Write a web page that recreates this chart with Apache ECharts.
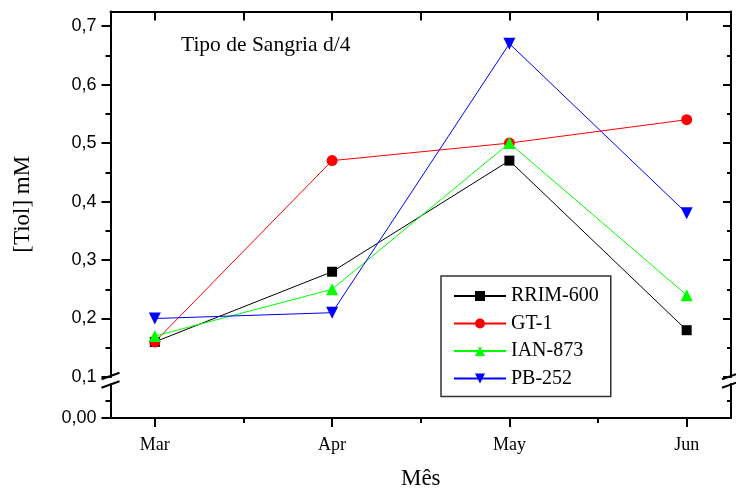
<!DOCTYPE html>
<html><head><meta charset="utf-8">
<script src="https://cdn.jsdelivr.net/npm/echarts@6/dist/echarts.min.js"></script>
<style>html,body{margin:0;padding:0;background:#fff}#c{width:736px;height:491px}</style>
</head><body><div id="c"></div>
<script>
// ---- data ----
const months = ['Mar', 'Apr', 'May', 'Jun'];
const monthIdx = [0, 1, 2, 3];
const monthMinor = [0.5, 1.5, 2.5];
const seriesNames = ['RRIM-600', 'GT-1', 'IAN-873', 'PB-252'];
const rrim600 = [0.16, 0.28, 0.47, 0.18];
const gt1     = [0.16, 0.47, 0.50, 0.54];
const ian873  = [0.17, 0.25, 0.50, 0.24];
const pb252   = [0.20, 0.21, 0.67, 0.38];
const yMajorTicks = [0.1, 0.2, 0.3, 0.4, 0.5, 0.6, 0.7];
const yMinorTicks = [0.15, 0.25, 0.35, 0.45, 0.55, 0.65];
const yLowMajorTicks = [0];
const yLowMinorTicks = [0.05];
const titleText = 'Tipo de Sangria d/4';
const xName = 'Mês';
const yName = '[Tiol] mM';

// ---- layout / style ----
const X_MIN = -0.25, X_MAX = 3.25;
const Y_UP_MIN = 0.1, Y_UP_MAX = 0.725;
const Y_LOW_MIN = 0, Y_LOW_MAX = 0.1;
const SERIF = '"Liberation Serif", "Times New Roman", serif';
const SANS = '"Liberation Sans", Arial, sans-serif';
const lineBlack = { show: true, onZero: false, lineStyle: { color: '#000', width: 2 } };
const noLine = { show: false, onZero: false };

function tickAxis(o) { return Object.assign({ type: 'value', splitLine: { show: false } }, o); }

const option = {
  animation: false,
  backgroundColor: '#fff',
  title: {
    text: titleText, left: 181, top: 34, padding: 0,
    textStyle: { fontFamily: SERIF, fontSize: 21.5, fontWeight: 'normal', color: '#000', lineHeight: 22 }
  },
  legend: {
    orient: 'vertical', left: 441, top: 276,
    padding: [10, 12, 8, 12],
    borderColor: '#333', borderWidth: 1.5,
    itemWidth: 52, itemHeight: 12.5, itemGap: 7.5,
    textStyle: { fontFamily: SERIF, fontSize: 20, color: '#000', lineHeight: 20 },
    data: seriesNames
  },
  grid: [
    { left: 110.5, right: 5, top: 11.5, height: 365.5 },
    { left: 110.5, right: 5, top: 384, bottom: 69.7 }
  ],
  xAxis: [
    // upper grid, top frame
    tickAxis({ gridIndex: 0, position: 'top', min: X_MIN, max: X_MAX, axisLine: lineBlack,
      axisTick: { show: true, inside: true, length: 9, customValues: monthIdx.concat(monthMinor), lineStyle: { color: '#000', width: 2 } },
      axisLabel: { show: false } }),
    // lower grid, bottom frame with labels
    tickAxis({ gridIndex: 1, position: 'bottom', min: X_MIN, max: X_MAX, axisLine: lineBlack,
      name: xName, nameLocation: 'middle', nameGap: 49,
      nameTextStyle: { fontFamily: SERIF, fontSize: 23, color: '#000' },
      axisTick: { show: true, inside: false, length: 9, customValues: monthIdx, lineStyle: { color: '#000', width: 2 } },
      axisLabel: { show: true, margin: 18, customValues: monthIdx, formatter: v => months[Math.round(v)],
        fontFamily: SERIF, fontSize: 18, color: '#000' } }),
    // lower grid, minor ticks
    tickAxis({ gridIndex: 1, position: 'bottom', min: X_MIN, max: X_MAX, axisLine: noLine,
      axisTick: { show: true, inside: false, length: 5, customValues: monthMinor, lineStyle: { color: '#000', width: 2 } },
      axisLabel: { show: false } })
  ],
  yAxis: [
    // 0: upper left major + labels
    tickAxis({ gridIndex: 0, position: 'left', min: Y_UP_MIN, max: Y_UP_MAX, axisLine: lineBlack,
      name: yName, nameLocation: 'middle', nameGap: 76,
      nameTextStyle: { fontFamily: SERIF, fontSize: 23, color: '#000', padding: [0, 20, 0, 0] },
      axisTick: { show: true, inside: false, length: 9, customValues: yMajorTicks, lineStyle: { color: '#000', width: 2 } },
      axisLabel: { show: true, margin: 14, customValues: yMajorTicks, formatter: v => v.toFixed(1).replace('.', ','),
        fontFamily: SANS, fontSize: 18, color: '#000' } }),
    // 1: upper left minor
    tickAxis({ gridIndex: 0, position: 'left', min: Y_UP_MIN, max: Y_UP_MAX, axisLine: noLine,
      axisTick: { show: true, inside: false, length: 5, customValues: yMinorTicks, lineStyle: { color: '#000', width: 2 } },
      axisLabel: { show: false } }),
    // 2: upper right major
    tickAxis({ gridIndex: 0, position: 'right', min: Y_UP_MIN, max: Y_UP_MAX, axisLine: lineBlack,
      axisTick: { show: true, inside: true, length: 8, customValues: yMajorTicks, lineStyle: { color: '#000', width: 2 } },
      axisLabel: { show: false } }),
    // 3: upper right minor
    tickAxis({ gridIndex: 0, position: 'right', min: Y_UP_MIN, max: Y_UP_MAX, axisLine: noLine,
      axisTick: { show: true, inside: true, length: 4, customValues: yMinorTicks, lineStyle: { color: '#000', width: 2 } },
      axisLabel: { show: false } }),
    // 4: lower left major + label
    tickAxis({ gridIndex: 1, position: 'left', min: Y_LOW_MIN, max: Y_LOW_MAX, axisLine: lineBlack,
      axisTick: { show: true, inside: false, length: 9, customValues: yLowMajorTicks, lineStyle: { color: '#000', width: 2 } },
      axisLabel: { show: true, margin: 14, customValues: yLowMajorTicks, formatter: v => v.toFixed(2).replace('.', ','),
        fontFamily: SANS, fontSize: 18, color: '#000' } }),
    // 5: lower left minor
    tickAxis({ gridIndex: 1, position: 'left', min: Y_LOW_MIN, max: Y_LOW_MAX, axisLine: noLine,
      axisTick: { show: true, inside: false, length: 5, customValues: yLowMinorTicks, lineStyle: { color: '#000', width: 2 } },
      axisLabel: { show: false } }),
    // 6: lower right
    tickAxis({ gridIndex: 1, position: 'right', min: Y_LOW_MIN, max: Y_LOW_MAX, axisLine: lineBlack,
      axisTick: { show: true, inside: true, length: 4, customValues: yLowMinorTicks, lineStyle: { color: '#000', width: 2 } },
      axisLabel: { show: false } })
  ],
  series: [
    { name: seriesNames[0], data: rrim600, color: '#000000', symbol: 'rect', symbolSize: 10 },
    { name: seriesNames[1], data: gt1, color: '#ff0000', symbol: 'circle', symbolSize: 11 },
    { name: seriesNames[2], data: ian873, color: '#00ff00', symbol: 'triangle', symbolSize: 12 },
    { name: seriesNames[3], data: pb252, color: '#0000ff', symbol: 'triangle', symbolSize: 12, symbolRotate: 180 }
  ].map(s => ({
    type: 'line', name: s.name, xAxisIndex: 0, yAxisIndex: 0,
    data: monthIdx.map((x, i) => [x, s.data[i]]),
    symbol: s.symbol, symbolSize: s.symbolSize, symbolRotate: s.symbolRotate || 0,
    showAllSymbol: true,
    itemStyle: { color: s.color, opacity: 1 },
    lineStyle: { color: s.color, width: 1 },
    emphasis: { disabled: true }
  }))
};

const chart = echarts.init(document.getElementById('c'), null, { renderer: 'canvas' });
chart.setOption(option);

// axis-break marks, positioned from the two grids' own scales
const upL = chart.convertToPixel({ gridIndex: 0 }, [X_MIN, Y_UP_MIN]);
const upR = chart.convertToPixel({ gridIndex: 0 }, [X_MAX, Y_UP_MIN]);
const lowL = chart.convertToPixel({ gridIndex: 1 }, [X_MIN, Y_LOW_MAX]);
const g = [];
[upL[0], upR[0]].forEach(x => {
  [upL[1] - 1, lowL[1] + 0.5].forEach(y => {
    g.push({ type: 'line', silent: true, z: 100,
      shape: { x1: x - 9, y1: y + 3.2, x2: x + 9, y2: y - 3.2 },
      style: { stroke: '#000', lineWidth: 2 } });
  });
});
chart.setOption({ graphic: g });
</script>
</body></html>
